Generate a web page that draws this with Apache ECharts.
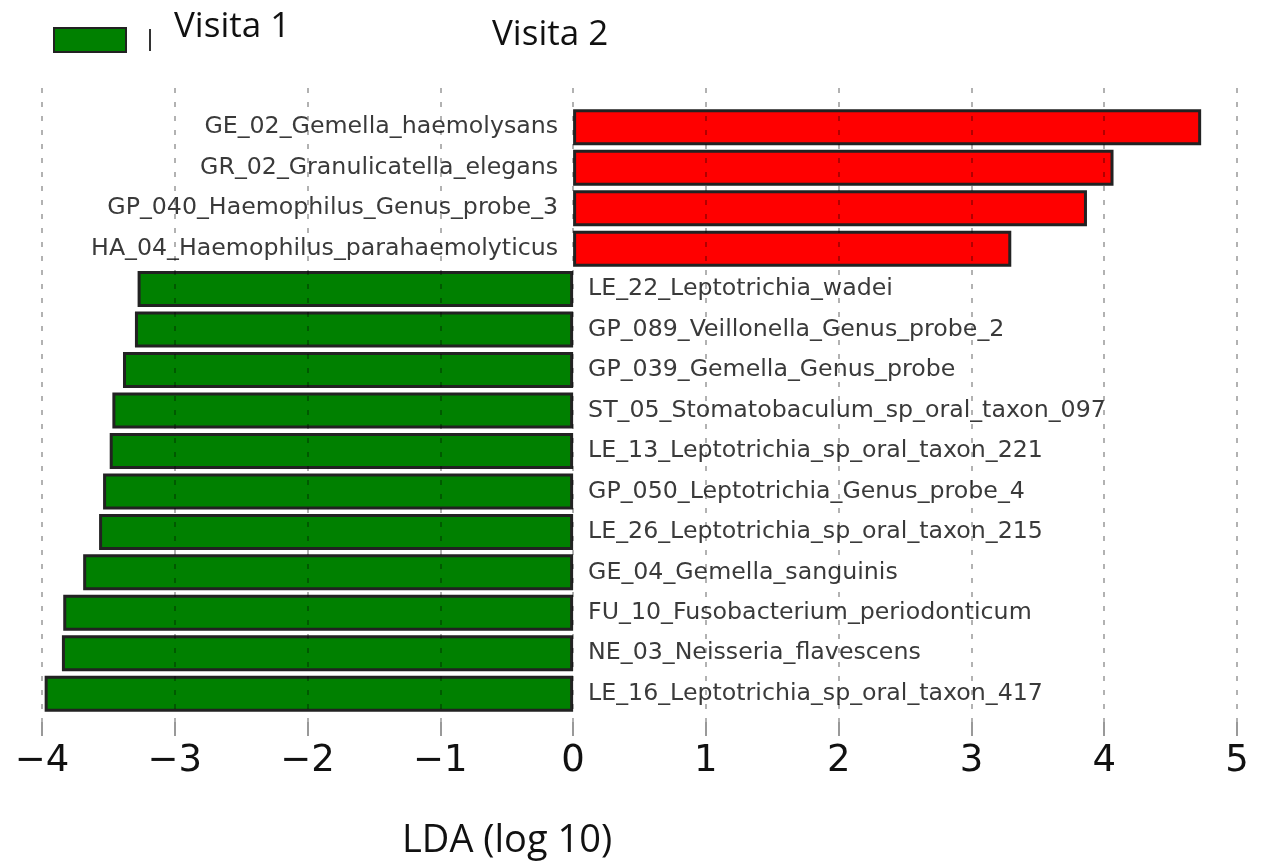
<!DOCTYPE html>
<html>
<head>
<meta charset="utf-8">
<script src="https://cdn.jsdelivr.net/npm/echarts@6/dist/echarts.min.js"></script>
<style>
  html, body { margin: 0; padding: 0; background: #fff; }
  #chart { width: 1264px; height: 867px; }
</style>
</head>
<body>
<div id="chart"></div>
<script>
// Taxa, top to bottom
const categories = [
  'GE_02_Gemella_haemolysans',
  'GR_02_Granulicatella_elegans',
  'GP_040_Haemophilus_Genus_probe_3',
  'HA_04_Haemophilus_parahaemolyticus',
  'LE_22_Leptotrichia_wadei',
  'GP_089_Veillonella_Genus_probe_2',
  'GP_039_Gemella_Genus_probe',
  'ST_05_Stomatobaculum_sp_oral_taxon_097',
  'LE_13_Leptotrichia_sp_oral_taxon_221',
  'GP_050_Leptotrichia_Genus_probe_4',
  'LE_26_Leptotrichia_sp_oral_taxon_215',
  'GE_04_Gemella_sanguinis',
  'FU_10_Fusobacterium_periodonticum',
  'NE_03_Neisseria_flavescens',
  'LE_16_Leptotrichia_sp_oral_taxon_417'
];

// LDA scores (log 10) enriched in Visita 2 (first four taxa)
const visita2Values = [4.73, 4.07, 3.87, 3.30];
// LDA scores (log 10) enriched in Visita 1 (remaining taxa), drawn as negatives
const visita1Values = [-3.28, -3.30, -3.39, -3.47, -3.49, -3.54, -3.57, -3.69, -3.84, -3.85, -3.98];

// Pad each group into the full category list
const visita2Data = categories.map((c, i) => (i < visita2Values.length ? visita2Values[i] : null));
const visita1Data = categories.map((c, i) => {
  const j = i - visita2Values.length;
  return j >= 0 ? visita1Values[j] : null;
});

const chart = echarts.init(document.getElementById('chart'), null, { renderer: 'canvas' });

const labelFont = 'DejaVu Sans';
const plotLeft = 42, plotRight = 27;

// Legend names are raised above their keys by an empty second line
const legendText = (lift, padLeft) => ({
  fontFamily: 'Open Sans', fontSize: 35, color: '#111', lineHeight: 40,
  padding: [0, 0, 0, padLeft],
  rich: { s: { fontSize: 4, lineHeight: lift * 2 } }
});

const option = {
  backgroundColor: '#ffffff',
  animation: false,
  legend: [
    {
      data: [{ name: 'Visita 1', icon: 'rect' }],
      left: 53, top: 7, padding: 0,
      itemWidth: 72, itemHeight: 24,
      selectedMode: false,
      formatter: name => name + '\n{s| }',
      textStyle: legendText(13, 43)
    },
    {
      data: [{ name: 'Visita 2', icon: 'rect', itemStyle: { color: '#333', borderWidth: 0 } }],
      left: 149, top: 15.5, padding: 0,
      itemWidth: 2, itemHeight: 22,
      selectedMode: false,
      formatter: name => name + '\n{s| }',
      textStyle: legendText(4.5, 336)
    }
  ],
  title: {
    text: 'LDA (log 10)',
    left: 402, top: 822,
    padding: 0,
    textStyle: { fontFamily: 'Open Sans', fontSize: 38, fontWeight: 'normal', color: '#111' }
  },
  grid: [
    // frame for gridlines, ticks and tick labels
    { left: plotLeft, right: plotRight, top: 88, height: 634 },
    // frame for the bars
    { left: plotLeft, right: plotRight, top: 107, height: 607 }
  ],
  xAxis: [
    {
      gridIndex: 0, type: 'value', min: -4, max: 5, interval: 1, z: 5,
      axisLine: { show: false },
      axisTick: { show: true, length: 14, lineStyle: { color: '#999', width: 2 } },
      axisLabel: {
        fontFamily: labelFont, fontSize: 37, color: '#111', margin: 21,
        formatter: v => (v < 0 ? '\u2212' + Math.abs(v) : String(v))
      },
      splitLine: { show: true, lineStyle: { color: 'rgba(0,0,0,0.3)', width: 2, type: [5, 9] } }
    },
    {
      gridIndex: 1, type: 'value', min: -4, max: 5, interval: 1,
      show: false, splitLine: { show: false }
    }
  ],
  yAxis: [
    { gridIndex: 0, type: 'value', show: false, splitLine: { show: false } },
    {
      gridIndex: 1, type: 'category', data: categories, inverse: true,
      axisLine: { show: false }, axisTick: { show: false }, axisLabel: { show: false },
      splitLine: { show: false }
    }
  ],
  series: [
    {
      name: 'Visita 1', type: 'bar', xAxisIndex: 1, yAxisIndex: 1,
      data: visita1Data, barWidth: 36, barGap: '-100%',
      itemStyle: { color: '#008000', borderColor: '#222', borderWidth: 3 },
      label: {
        show: true, position: 'right', distance: 15, formatter: '{b}',
        fontFamily: labelFont, fontSize: 23.7, color: '#3a3a3a'
      }
    },
    {
      name: 'Visita 2', type: 'bar', xAxisIndex: 1, yAxisIndex: 1,
      data: visita2Data, barWidth: 36, barGap: '-100%',
      itemStyle: { color: '#ff0000', borderColor: '#222', borderWidth: 3 },
      label: {
        show: true, position: 'left', distance: 15, formatter: '{b}',
        fontFamily: labelFont, fontSize: 23.7, color: '#3a3a3a'
      }
    }
  ]
};

chart.setOption(option);
</script>
</body>
</html>
